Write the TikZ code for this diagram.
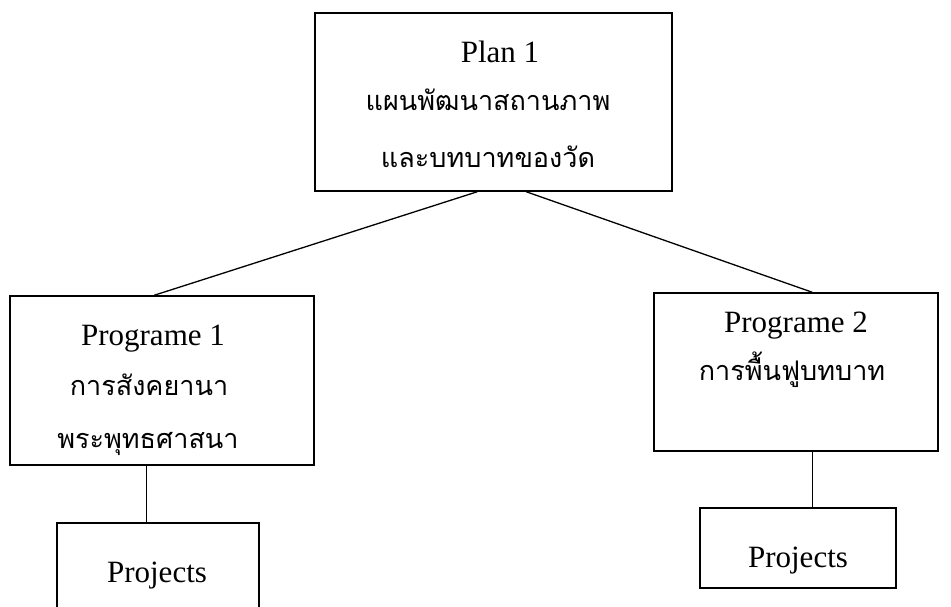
\documentclass[tikz,border=0pt]{standalone}
\usepackage{fontspec}
\setmainfont{Liberation Serif}
\newfontfamily\thaifont[Script=Thai]{Loma}
\usetikzlibrary{calc}
\tikzstyle{box} = [draw, line width=1.5pt, inner sep=0pt]
\tikzstyle{lbl} = [anchor=base, inner sep=0pt, font=\fontsize{31}{31}\selectfont]
\tikzstyle{thai} = [anchor=base, inner sep=0pt, font=\thaifont\fontsize{27}{27}\selectfont]

\begin{document}
\begin{tikzpicture}[x=1pt, y=-1pt]
        \useasboundingbox (0,0) rectangle (951,606);
        \node (plan) [box, minimum width=357, minimum height=178] at (493.5,102) {};
        \node (prog1) [box, minimum width=304, minimum height=169] at (162,380.5) {};
        \node (prog2) [box, minimum width=284, minimum height=158] at (796,372) {};
        \node (proj1) [box, minimum width=202, minimum height=110] at (158,578) {};
        \node (proj2) [box, minimum width=196, minimum height=80] at (798,548) {};
        \node (plantxt) [lbl] at (500,62) {Plan 1};
        \node (planth1) [thai] at (488,110) {แผนพัฒนาสถานภาพ};
        \node (planth2) [thai] at (488,167) {และบทบาทของวัด};
        \node (prog1txt) [lbl] at (153,345) {Programe 1};
        \node (prog1th1) [thai] at (149,395) {การสังคยานา};
        \node (prog1th2) [thai] at (148,448) {พระพุทธศาสนา};
        \node (prog2txt) [lbl] at (796,332) {Programe 2};
        \node (prog2th) [thai] at (792,380) {การพื้นฟูบทบาท};
        \node (proj1txt) [lbl] at (157,582) {Projects};
        \node (proj2txt) [lbl] at (798,567) {Projects};
        \draw [line width=1.3pt] ($(plan.south west)+(163,0)$) -- ($(prog1.north west)+(145,0)$);
        \draw [line width=1.3pt] ($(plan.south west)+(212,0)$) -- ($(prog2.north west)+(159,0)$);
        \draw [line width=1.3pt] ($(prog1.south west)+(137,0)$) -- ($(proj1.north west)+(90,0)$);
        \draw [line width=1.3pt] ($(prog2.south west)+(159,0)$) -- ($(proj2.north west)+(113,0)$);
    \end{tikzpicture}
\end{document}
